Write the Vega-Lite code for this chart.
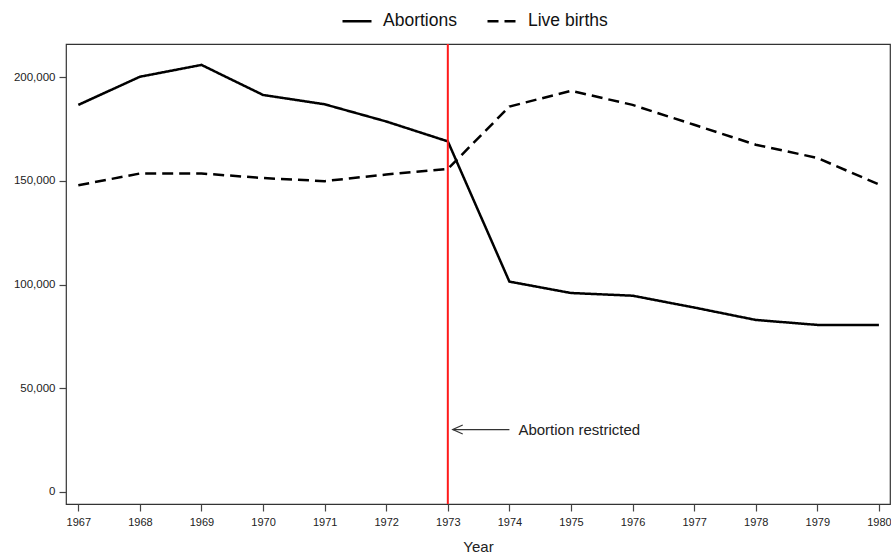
{
  "$schema": "https://vega.github.io/schema/vega-lite/v6.json",
  "width": 824,
  "height": 460,
  "autosize": {"type": "none"},
  "padding": {"left": 66, "top": 44, "right": 1, "bottom": 54},
  "background": "white",
  "config": {
    "font": "Liberation Sans",
    "view": {"stroke": "#333333", "strokeWidth": 1.2},
    "axis": {
      "domain": false,
      "grid": false,
      "ticks": true,
      "tickSize": 7,
      "tickColor": "#444444",
      "tickWidth": 1.2,
      "labelFont": "Liberation Sans",
      "labelColor": "#222222",
      "titleFont": "Liberation Sans",
      "titleFontWeight": "normal",
      "titleColor": "#222222"
    }
  },
  "layer": [
    {
      "data": {
        "values": [
          {"year": 1967, "series": "Abortions", "count": 186700},
          {"year": 1968, "series": "Abortions", "count": 200300},
          {"year": 1969, "series": "Abortions", "count": 206000},
          {"year": 1970, "series": "Abortions", "count": 191500},
          {"year": 1971, "series": "Abortions", "count": 187000},
          {"year": 1972, "series": "Abortions", "count": 178700},
          {"year": 1973, "series": "Abortions", "count": 169100},
          {"year": 1974, "series": "Abortions", "count": 101400},
          {"year": 1975, "series": "Abortions", "count": 95900},
          {"year": 1976, "series": "Abortions", "count": 94600},
          {"year": 1977, "series": "Abortions", "count": 88900},
          {"year": 1978, "series": "Abortions", "count": 82900},
          {"year": 1979, "series": "Abortions", "count": 80500},
          {"year": 1980, "series": "Abortions", "count": 80500},
          {"year": 1967, "series": "Live births", "count": 147900},
          {"year": 1968, "series": "Live births", "count": 153600},
          {"year": 1969, "series": "Live births", "count": 153600},
          {"year": 1970, "series": "Live births", "count": 151400},
          {"year": 1971, "series": "Live births", "count": 149900},
          {"year": 1972, "series": "Live births", "count": 153100},
          {"year": 1973, "series": "Live births", "count": 155800},
          {"year": 1974, "series": "Live births", "count": 185900},
          {"year": 1975, "series": "Live births", "count": 193500},
          {"year": 1976, "series": "Live births", "count": 186700},
          {"year": 1977, "series": "Live births", "count": 177100},
          {"year": 1978, "series": "Live births", "count": 167500},
          {"year": 1979, "series": "Live births", "count": 161100},
          {"year": 1980, "series": "Live births", "count": 148300}
        ]
      },
      "mark": {"type": "line", "color": "black", "strokeWidth": 2.5},
      "encoding": {
        "x": {
          "field": "year",
          "type": "quantitative",
          "scale": {"domain": [1966.8, 1980.18], "nice": false, "zero": false},
          "axis": {
            "values": [1967,1968,1969,1970,1971,1972,1973,1974,1975,1976,1977,1978,1979,1980],
            "format": "d",
            "labelFontSize": 11,
            "labelPadding": 5,
            "title": "Year",
            "titleFontSize": 15,
            "titlePadding": 12
          }
        },
        "y": {
          "field": "count",
          "type": "quantitative",
          "scale": {"domain": [-5950, 216100], "nice": false, "zero": false},
          "axis": {
            "values": [0, 50000, 100000, 150000, 200000],
            "format": ",d",
            "labelFontSize": 11.5,
            "labelPadding": 4,
            "title": null
          }
        },
        "strokeDash": {
          "field": "series",
          "type": "nominal",
          "scale": {"domain": ["Abortions", "Live births"], "range": [[1, 0], [11, 6]]},
          "legend": {
            "title": null,
            "orient": "none",
            "direction": "horizontal",
            "legendX": 275,
            "legendY": -39,
            "symbolType": "stroke",
            "symbolSize": 841,
            "symbolStrokeWidth": 2.5,
            "symbolStrokeColor": "black",
            "labelFontSize": 17.5,
            "labelFont": "Liberation Sans",
            "labelColor": "#111111",
            "labelOffset": 10,
            "columnPadding": 25
          }
        }
      }
    },
    {
      "data": {"values": [{"year": 1973}]},
      "mark": {"type": "rule", "color": "#ff1a1a", "strokeWidth": 2},
      "encoding": {"x": {"field": "year", "type": "quantitative"}}
    },
    {
      "data": {"values": [{"from": 1973.08, "to": 1974.0, "count": 30000}]},
      "mark": {"type": "rule", "color": "#333333", "strokeWidth": 1.2},
      "encoding": {
        "x": {"field": "from", "type": "quantitative"},
        "x2": {"field": "to"},
        "y": {"field": "count", "type": "quantitative"}
      }
    },
    {
      "data": {"values": [{"from": 1973.08, "count": 30000}]},
      "mark": {"type": "point", "shape": "M2,-0.9L0,0L2,0.9", "size": 100, "filled": false, "stroke": "#333333", "strokeWidth": 1.2, "opacity": 1},
      "encoding": {
        "x": {"field": "from", "type": "quantitative"},
        "y": {"field": "count", "type": "quantitative"}
      }
    },
    {
      "data": {"values": [{"year": 1974, "count": 30000, "label": "Abortion restricted"}]},
      "mark": {"type": "text", "align": "left", "baseline": "middle", "dx": 9, "fontSize": 15, "font": "Liberation Sans", "color": "#222222"},
      "encoding": {
        "x": {"field": "year", "type": "quantitative"},
        "y": {"field": "count", "type": "quantitative"},
        "text": {"field": "label"}
      }
    }
  ]
}
